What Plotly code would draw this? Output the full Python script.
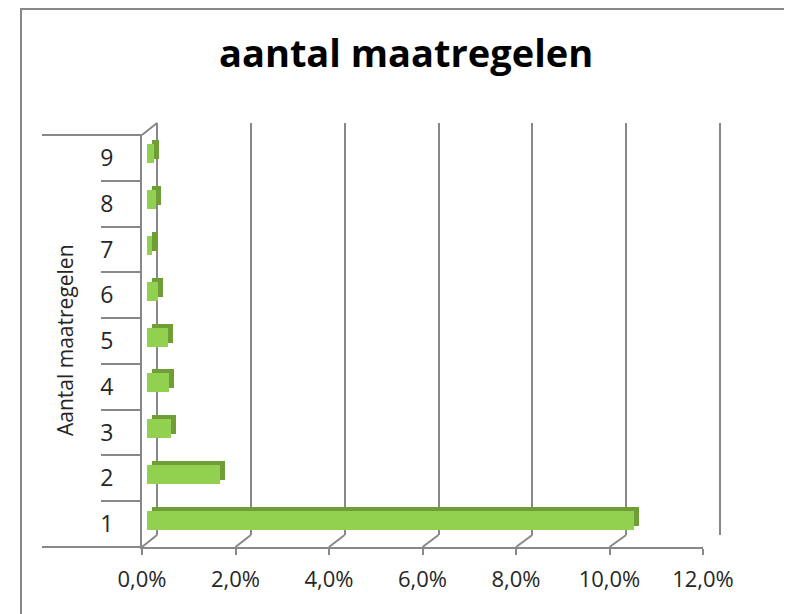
import plotly.graph_objects as go

# ---- data ----
categories = ["1", "2", "3", "4", "5", "6", "7", "8", "9"]
shares = [0.1041, 0.0156, 0.0051, 0.0048, 0.0045, 0.0024, 0.0010, 0.0019, 0.0015]
x_ticks = [0.0, 0.02, 0.04, 0.06, 0.08, 0.10, 0.12]
chart_title = "aantal maatregelen"
y_title = "Aantal maatregelen"

# page body has an 8px margin; figure fills the rest of the window
OFF = 8
W, H = 792 - OFF, 614 - OFF
def px(x):
    return (x - OFF) / W
def py(y):
    return 1 - (y - OFF) / H

GRAY = "#888888"
TXT = "#262626"
FONT = "Open Sans"

fig = go.Figure()

# front axis (labels) - invisible carrier trace
fig.add_trace(go.Scatter(x=shares, y=categories, mode="markers",
                         marker=dict(opacity=0), hoverinfo="skip",
                         showlegend=False, xaxis="x", yaxis="y"))
# category separator ticks carrier
fig.add_trace(go.Scatter(x=shares, y=categories, mode="markers",
                         marker=dict(opacity=0), hoverinfo="skip",
                         showlegend=False, xaxis="x", yaxis="y5"))
# back wall (gridlines) carrier
fig.add_trace(go.Scatter(x=shares, y=categories, mode="markers",
                         marker=dict(opacity=0), hoverinfo="skip",
                         showlegend=False, xaxis="x2", yaxis="y2"))
# 3D depth (top/right faces)
fig.add_trace(go.Bar(x=shares, y=categories, orientation="h", width=0.415,
                     marker=dict(color="#6F9E36", line=dict(width=0)),
                     hoverinfo="skip", showlegend=False, xaxis="x3", yaxis="y3"))
# front faces
fig.add_trace(go.Bar(x=shares, y=categories, orientation="h", width=0.415,
                     marker=dict(color="#92D050", line=dict(width=0)),
                     showlegend=False, xaxis="x4", yaxis="y4"))

cat_axis = dict(type="category", categoryorder="array", categoryarray=categories,
                range=[-0.5, 8.5], automargin=False)
hidden_x = dict(range=[0, 0.12], showgrid=False, zeroline=False, showticklabels=False,
                showline=False, ticks="", fixedrange=True, automargin=False)
hidden_y = dict(cat_axis, showgrid=False, zeroline=False, showticklabels=False,
                showline=False, ticks="")

# back wall: 0 -> x=157, 12% -> x=720, padded so edge gridlines are kept
pad = 0.0006
scale = (720 - 157) / 0.12

fig.update_layout(
    width=W, height=H,
    margin=dict(l=0, r=0, t=0, b=0, autoexpand=False),
    paper_bgcolor="white", plot_bgcolor="rgba(0,0,0,0)",
    separators=",.",
    bargap=0,
    font=dict(family=FONT, color=TXT),
    xaxis=dict(domain=[px(142), px(703)], range=[0, 0.12], tickvals=x_ticks,
               tickformat=".1%", ticks="outside", ticklen=6, tickwidth=2,
               tickcolor=GRAY, showline=True, linecolor=GRAY, linewidth=2,
               showgrid=False, zeroline=False, anchor="y", automargin=False,
               tickfont=dict(size=22, color=TXT, family=FONT),
               ticklabelstandoff=6),
    yaxis=dict(cat_axis, domain=[py(547), py(135)], anchor="x",
               showline=True, linecolor=GRAY, linewidth=2,
               ticks="", showgrid=False, zeroline=False,
               tickfont=dict(size=23, color=TXT, family=FONT),
               ticklabelstandoff=22),
    yaxis5=dict(cat_axis, overlaying="y", anchor="x", side="left",
                showline=False, ticks="outside", tickson="boundaries", ticklen=40,
                tickwidth=2, tickcolor=GRAY, showgrid=False, zeroline=False,
                showticklabels=False),
    xaxis2=dict(hidden_x, domain=[px(157 - pad * scale), px(720 + pad * scale)],
                range=[-pad, 0.12 + pad],
                anchor="y2", showgrid=True, gridcolor=GRAY, gridwidth=2,
                tickvals=x_ticks),
    yaxis2=dict(hidden_y, domain=[py(535), py(123)], anchor="x2"),
    xaxis3=dict(hidden_x, domain=[px(152), px(713)], anchor="y3"),
    yaxis3=dict(hidden_y, domain=[py(539), py(127)], anchor="x3"),
    xaxis4=dict(hidden_x, domain=[px(147), px(708)], anchor="y4"),
    yaxis4=dict(hidden_y, domain=[py(543), py(131)], anchor="x4"),
)

shapes = []
# outer chart border
shapes.append(dict(type="rect", xref="paper", yref="paper",
                   x0=px(21), x1=px(790), y0=py(620), y1=py(9),
                   line=dict(color=GRAY, width=2), layer="below"))
# long separator lines at top and bottom of category labels
for yy in (135, 547):
    shapes.append(dict(type="line", xref="paper", yref="paper",
                       x0=px(42), x1=px(142), y0=py(yy), y1=py(yy),
                       line=dict(color=GRAY, width=2)))
# floor diagonals at each tick (front -> back)
for v in x_ticks:
    shapes.append(dict(type="line", xref="x", yref="paper",
                       xsizemode="pixel", xanchor=v, x0=0, x1=15 + 2 * v / 0.12,
                       ysizemode="pixel", yanchor=py(547), y0=0, y1=12,
                       line=dict(color=GRAY, width=2)))
# top-left wall diagonal
shapes.append(dict(type="line", xref="paper", yref="paper",
                   x0=px(142), x1=px(157), y0=py(135), y1=py(123),
                   line=dict(color=GRAY, width=2)))
fig.update_layout(shapes=shapes)

fig.add_annotation(text=chart_title, xref="paper", yref="paper",
                   x=px(406), y=py(52), xanchor="center", yanchor="middle",
                   showarrow=False,
                   font=dict(size=38, color="black", family=FONT, weight="bold"))
fig.add_annotation(text=y_title, xref="paper", yref="paper",
                   x=px(65), y=py(340), xanchor="center", yanchor="middle",
                   showarrow=False, textangle=-90,
                   font=dict(size=21, color=TXT, family=FONT))

fig.write_html("out.html")
